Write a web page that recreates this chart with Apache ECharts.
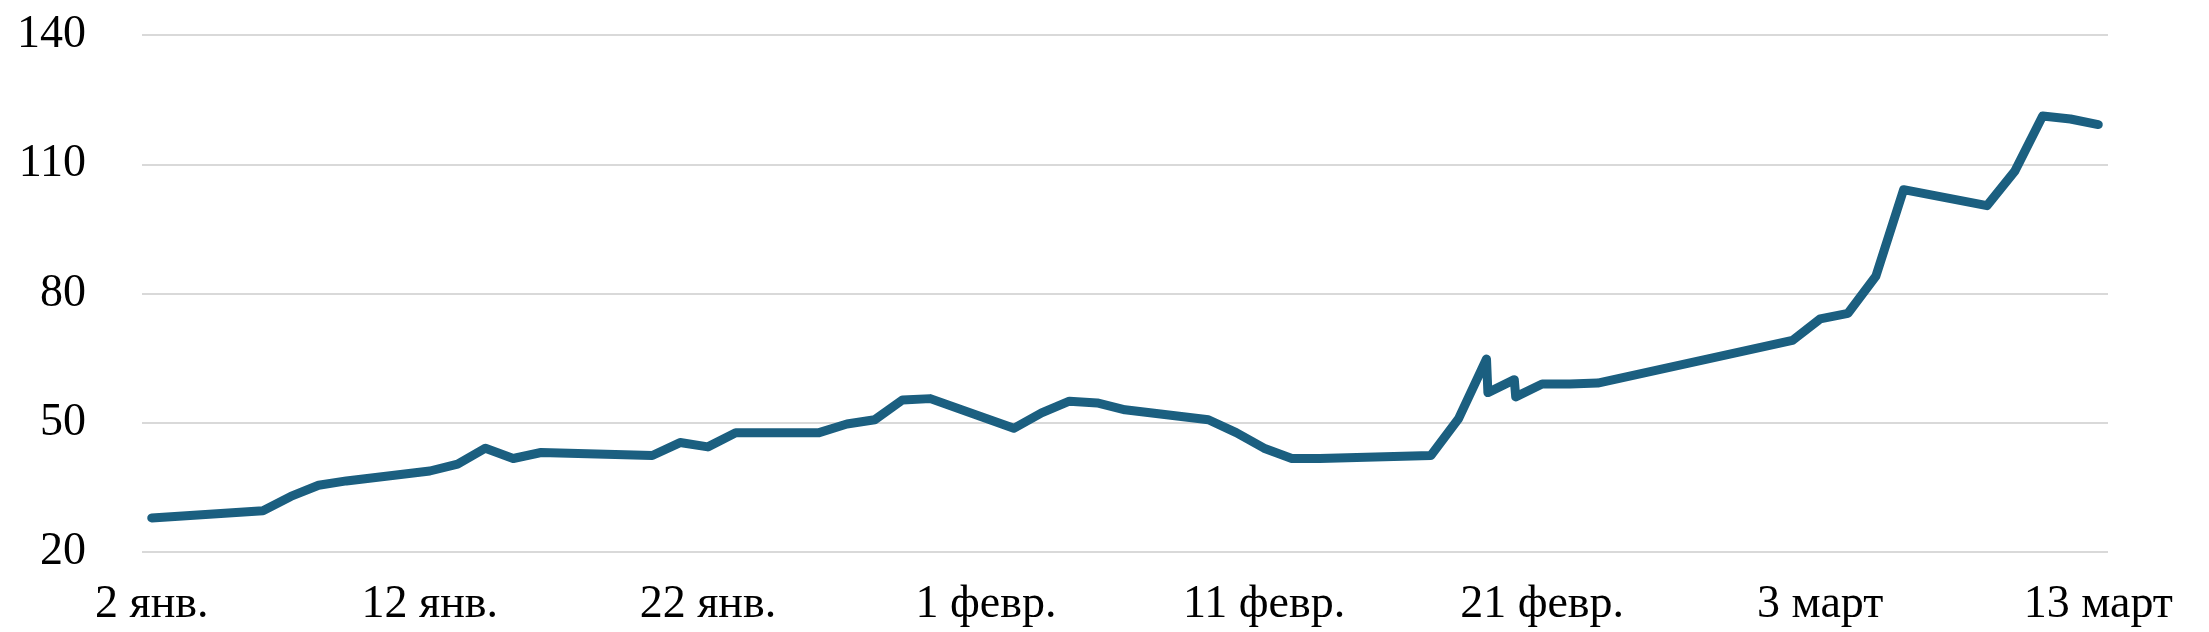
<!DOCTYPE html>
<html><head><meta charset="utf-8">
<script src="https://cdn.jsdelivr.net/npm/echarts@6/dist/echarts.min.js"></script>
<style>html,body{margin:0;background:#fff}#c{width:2209px;height:632px}</style></head>
<body><div id="c"></div>
<script>
const tickDays = [0,10,20,30,40,50,60,70];
const tickLabels = ['2 янв.','12 янв.','22 янв.','1 февр.','11 февр.','21 февр.','3 март','13 март'];
const days = [0,4,5,6,7,10,11,12,13,14,18,19,20,21,24,25,26,27,28,31,32,33,34,35,38,39,40,41,42,46,47,48,48.05,49,49.05,50,51,52,59,60,61,62,63,66,67,68,69,70];
const values = [27.9,29.6,32.9,35.5,36.5,38.8,40.4,44.1,41.7,43.1,42.4,45.4,44.4,47.7,47.7,49.7,50.7,55.3,55.6,48.7,52.3,55.0,54.6,53.0,50.7,47.7,44.1,41.7,41.7,42.4,51.0,64.8,57.0,60.0,56.0,59.0,59.0,59.2,69.1,74.1,75.4,84.0,104.1,100.4,108.4,121.2,120.5,119.2];
const font = 'Liberation Serif, Times New Roman, serif';
const chart = echarts.init(document.getElementById('c'));
chart.setOption({
  animation:false,
  grid:{left:142,right:101,top:35,bottom:80},
  xAxis:{type:'value',min:-0.35,max:70.35,
    axisLine:{show:false},axisTick:{show:false},splitLine:{show:false},
    axisLabel:{customValues:tickDays,formatter:v=>tickLabels[tickDays.indexOf(Math.round(v))]||'',
      fontFamily:font,fontSize:46,color:'#000',margin:30}},
  yAxis:{type:'value',min:20,max:140,interval:30,
    axisLine:{show:false},axisTick:{show:false},
    splitLine:{lineStyle:{color:'#d9d9d9',width:2}},
    axisLabel:{fontFamily:font,fontSize:46,color:'#000',margin:56,verticalAlign:'middle'}},
  series:[{type:'line',data:days.map((d,i)=>[d,values[i]]),showSymbol:false,
    lineStyle:{color:'#1b5f80',width:9,cap:'round',join:'round'}}]
});
</script></body></html>
